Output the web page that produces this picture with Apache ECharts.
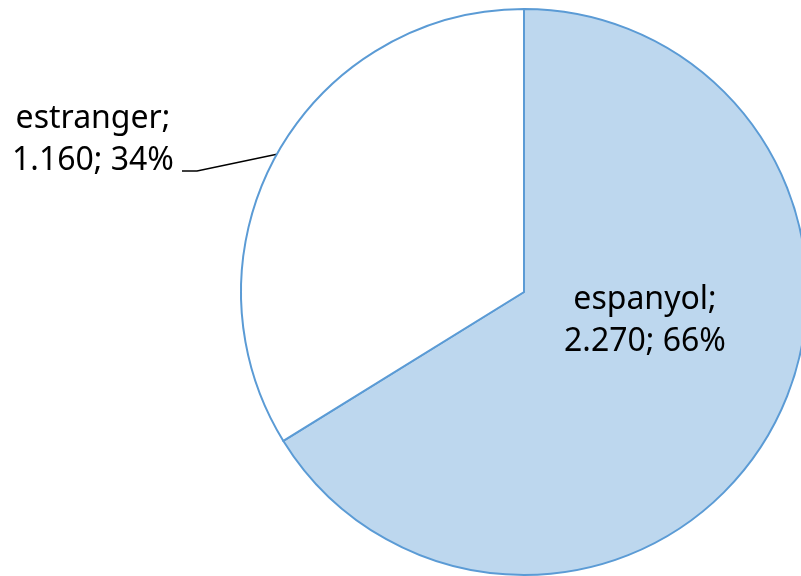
<!DOCTYPE html>
<html><head><meta charset="utf-8">
<script src="https://cdn.jsdelivr.net/npm/echarts@6/dist/echarts.min.js"></script>
<style>html,body{margin:0;padding:0;background:#fff}#c{width:801px;height:576px}</style>
</head><body><div id="c"></div>
<script>
const categories = ['espanyol', 'estranger'];
const values = [2270, 1160];
const colors = ['#BDD7EE', '#FFFFFF'];
const labelPositions = ['inside', 'outside'];

function fmt(n){ return String(n).replace(/\B(?=(\d{3})+(?!\d))/g, '.'); }

const chart = echarts.init(document.getElementById('c'), null, {renderer:'canvas'});
chart.setOption({
  animation: false,
  series: [{
    type: 'pie',
    center: [524, 292],
    radius: [0, 283],
    startAngle: 90,
    clockwise: true,
    avoidLabelOverlap: false,
    data: categories.map((c, i) => ({
      name: c, value: values[i], itemStyle: {color: colors[i]},
      label: {position: labelPositions[i]},
      labelLine: {show: labelPositions[i] === 'outside'}
    })),
    itemStyle: {borderColor: '#5B9BD5', borderWidth: 2},
    label: {
      show: true,
      formatter: p => p.name + ';\n' + fmt(p.value) + '; ' + Math.round(p.percent) + '%',
      fontFamily: 'Noto Sans',
      fontSize: 32,
      lineHeight: 42,
      color: '#000',
      align: 'center'
    },
    labelLine: {show: true, lineStyle: {color: '#000', width: 1.3}, length: 10, length2: 10},
    labelLayout: function (params) {
      if (params.dataIndex === 0) {
        return {x: 645, y: 321, align: 'center', verticalAlign: 'middle'};
      }
      const p0 = params.labelLinePoints ? params.labelLinePoints[0] : [277, 153];
      return {x: 93, y: 140, align: 'center', verticalAlign: 'middle',
        labelLinePoints: [p0, [197, 171], [182, 171]]};
    },
    emphasis: {disabled: true}
  }]
});
</script></body></html>
